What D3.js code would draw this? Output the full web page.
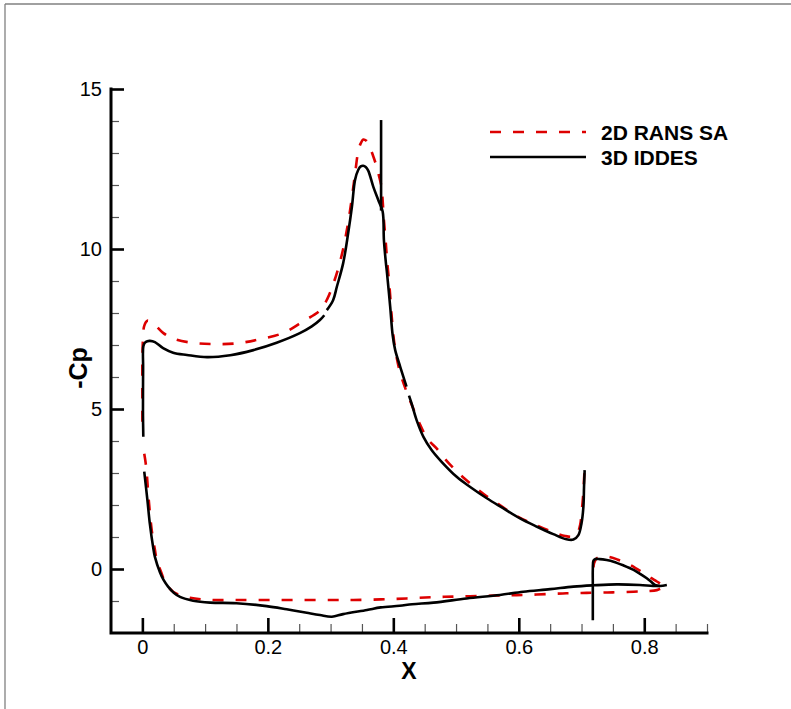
<!DOCTYPE html>
<html>
<head>
<meta charset="utf-8">
<script src="https://cdn.jsdelivr.net/npm/d3@7"></script>
<style>
  html, body { margin: 0; padding: 0; background: #fff; }
  svg { display: block; }
  text { font-family: "Liberation Sans", Arial, sans-serif; }
</style>
</head>
<body>
<script>
// -Cp distribution along x: main element + flap, two solvers

const xMajorTicks = [0, 0.2, 0.4, 0.6, 0.8];
const xMinorTicks = [0.05, 0.1, 0.15, 0.25, 0.3, 0.35, 0.45, 0.5, 0.55, 0.65, 0.7, 0.75, 0.85, 0.9];
const yMajorTicks = [0, 5, 10, 15];
const yMinorTicks = [-1, 1, 2, 3, 4, 6, 7, 8, 9, 11, 12, 13, 14];

const seriesNames = ["2D RANS SA", "3D IDDES"];

// 2D RANS SA — main element, suction side
const ransUpperX = [0.000, 0.000, 0.000, 0.001, 0.003, 0.008, 0.017, 0.033, 0.049, 0.079, 0.113, 0.150, 0.187, 0.225, 0.257, 0.283, 0.295, 0.305, 0.313, 0.320, 0.326, 0.331, 0.336, 0.340, 0.344, 0.348, 0.352, 0.357, 0.362, 0.368, 0.373, 0.377, 0.381, 0.385, 0.388, 0.390, 0.394, 0.397, 0.402, 0.410, 0.420, 0.430, 0.443, 0.455, 0.469, 0.482, 0.496, 0.512, 0.528, 0.545, 0.562, 0.580, 0.599, 0.617, 0.636, 0.655, 0.674, 0.687, 0.694, 0.698, 0.700, 0.703, 0.704, 0.705];
const ransUpperCp = [4.60, 5.50, 6.50, 7.20, 7.60, 7.76, 7.68, 7.38, 7.20, 7.07, 7.03, 7.05, 7.18, 7.38, 7.75, 8.08, 8.45, 8.95, 9.45, 10.00, 10.60, 11.20, 11.90, 12.50, 13.05, 13.30, 13.42, 13.38, 13.20, 12.90, 12.60, 12.30, 11.95, 10.90, 10.20, 9.66, 8.80, 8.00, 7.00, 6.20, 5.60, 5.10, 4.50, 4.05, 3.77, 3.45, 3.15, 2.85, 2.59, 2.33, 2.10, 1.86, 1.63, 1.46, 1.30, 1.15, 1.03, 1.02, 1.15, 1.40, 1.74, 2.40, 2.80, 3.15];

// 2D RANS SA — main element pressure side, running on under the flap
const ransLowerX = [0.003, 0.006, 0.010, 0.015, 0.020, 0.023, 0.030, 0.036, 0.043, 0.049, 0.060, 0.076, 0.095, 0.113, 0.150, 0.200, 0.250, 0.300, 0.336, 0.380, 0.421, 0.464, 0.500, 0.543, 0.580, 0.613, 0.650, 0.676, 0.700, 0.719, 0.750, 0.783, 0.805, 0.820, 0.826, 0.833];
const ransLowerCp = [3.60, 3.20, 2.20, 1.20, 0.60, 0.28, -0.10, -0.40, -0.60, -0.71, -0.82, -0.90, -0.95, -0.97, -0.97, -0.97, -0.97, -0.97, -0.97, -0.95, -0.92, -0.88, -0.86, -0.84, -0.82, -0.81, -0.78, -0.76, -0.75, -0.74, -0.73, -0.71, -0.69, -0.66, -0.61, -0.55];

// 2D RANS SA — flap suction side
const ransFlapX = [0.719, 0.720, 0.724, 0.733, 0.743, 0.757, 0.772, 0.786, 0.799, 0.810, 0.820, 0.827, 0.833];
const ransFlapCp = [0.05, 0.18, 0.33, 0.38, 0.38, 0.30, 0.18, 0.03, -0.13, -0.27, -0.39, -0.48, -0.55];

// 3D IDDES — main element suction side, first block
const iddesUpper1X = [0.0015, 0.0010, 0.0010, 0.0012, 0.0015, 0.004, 0.008, 0.012, 0.020, 0.033, 0.049, 0.071, 0.103, 0.140, 0.177, 0.214, 0.251, 0.270, 0.283, 0.290];
const iddesUpper1Cp = [4.13, 4.80, 5.50, 6.30, 6.95, 7.07, 7.12, 7.13, 7.09, 6.90, 6.76, 6.69, 6.62, 6.68, 6.84, 7.07, 7.37, 7.58, 7.78, 7.93];

// 3D IDDES — suction peak block
const iddesUpper2X = [0.294, 0.304, 0.310, 0.320, 0.328, 0.334, 0.339, 0.344, 0.348, 0.352, 0.356, 0.360, 0.368, 0.376, 0.383, 0.385, 0.388, 0.390, 0.395, 0.399, 0.403, 0.411, 0.421];
const iddesUpper2Cp = [8.09, 8.40, 8.82, 9.55, 10.49, 11.32, 12.16, 12.47, 12.58, 12.60, 12.56, 12.45, 11.95, 11.53, 11.17, 10.28, 9.60, 9.24, 8.20, 7.30, 6.84, 6.32, 5.70];

// 3D IDDES — recovery towards the trailing edge
const iddesUpper3X = [0.425, 0.429, 0.437, 0.448, 0.461, 0.477, 0.501, 0.522, 0.549, 0.575, 0.602, 0.629, 0.655, 0.676, 0.687, 0.695, 0.700, 0.703, 0.704, 0.705];
const iddesUpper3Cp = [5.42, 5.18, 4.66, 4.13, 3.72, 3.35, 2.88, 2.57, 2.21, 1.90, 1.58, 1.32, 1.09, 0.93, 0.92, 1.06, 1.43, 1.95, 2.57, 3.09];

// 3D IDDES — spike at the block interface
const iddesSpikeX = [0.3805, 0.3805];
const iddesSpikeCp = [11.20, 14.03];

// 3D IDDES — pressure side, main element and flap
const iddesLowerX = [0.003, 0.008, 0.012, 0.017, 0.020, 0.028, 0.034, 0.041, 0.050, 0.060, 0.081, 0.108, 0.150, 0.198, 0.230, 0.262, 0.283, 0.302, 0.320, 0.358, 0.380, 0.410, 0.430, 0.464, 0.517, 0.570, 0.607, 0.650, 0.687, 0.719, 0.756, 0.793, 0.814, 0.825, 0.836];
const iddesLowerCp = [3.04, 2.16, 1.40, 0.70, 0.38, -0.10, -0.35, -0.55, -0.74, -0.87, -0.99, -1.05, -1.07, -1.16, -1.26, -1.37, -1.44, -1.49, -1.41, -1.28, -1.20, -1.15, -1.10, -1.05, -0.92, -0.81, -0.71, -0.63, -0.55, -0.51, -0.48, -0.50, -0.53, -0.53, -0.50];

// 3D IDDES — flap suction side
const iddesFlapX = [0.718, 0.718, 0.718, 0.719, 0.722, 0.729, 0.740, 0.751, 0.767, 0.783, 0.794, 0.804, 0.811, 0.817, 0.825];
const iddesFlapCp = [-1.60, -0.50, 0.00, 0.26, 0.31, 0.31, 0.28, 0.23, 0.11, -0.03, -0.16, -0.29, -0.40, -0.50, -0.53];

const W = 791, H = 709;
const svg = d3.select("body").append("svg").attr("width", W).attr("height", H);

// outer frame (only top and left edges fall inside the page)
svg.append("line").attr("x1", 5).attr("y1", 4).attr("x2", W).attr("y2", 4)
  .attr("stroke", "#808080").attr("stroke-width", 1.3);
svg.append("line").attr("x1", 5).attr("y1", 4).attr("x2", 5).attr("y2", H)
  .attr("stroke", "#808080").attr("stroke-width", 1.3);

const x = d3.scaleLinear().domain([-0.05, 0.9]).range([111, 707]);
const y = d3.scaleLinear().domain([-2, 15]).range([633, 89]);

const zip = (xs, ys) => xs.map((v, i) => [v, ys[i]]);
const straight = d3.line().x(d => x(d[0])).y(d => y(d[1]));
const smooth = d3.line().x(d => x(d[0])).y(d => y(d[1])).curve(d3.curveCatmullRom.alpha(0.5));

const plot = svg.append("g");

function drawSeries(data, color, dashed, gen) {
  plot.append("path")
    .attr("d", gen(data))
    .attr("fill", "none")
    .attr("stroke", color)
    .attr("stroke-width", 2.6)
    .attr("stroke-linejoin", "round")
    .attr("stroke-dasharray", dashed ? "11,12" : null);
}

const red = "#dd0000", black = "#000";

drawSeries(zip(ransUpperX, ransUpperCp), red, true, smooth);
drawSeries(zip(ransLowerX, ransLowerCp), red, true, smooth);
drawSeries(zip(ransFlapX, ransFlapCp), red, true, smooth);

drawSeries(zip(iddesUpper1X, iddesUpper1Cp), black, false, smooth);
drawSeries(zip(iddesUpper2X, iddesUpper2Cp), black, false, smooth);
drawSeries(zip(iddesUpper3X, iddesUpper3Cp), black, false, smooth);
drawSeries(zip(iddesSpikeX, iddesSpikeCp), black, false, straight);
drawSeries(zip(iddesLowerX, iddesLowerCp), black, false, smooth);
drawSeries(zip(iddesFlapX, iddesFlapCp), black, false, smooth);

// axes: inward ticks, major and minor
function styleAxis(g, major) {
  g.select(".domain").remove();
  g.selectAll(".tick line").attr("stroke", major ? "#000" : "#555").attr("stroke-width", major ? 2.6 : 1.2);
  g.selectAll(".tick text").attr("font-size", 20).attr("fill", "#000")
    .attr("font-family", "'Liberation Sans', Arial, sans-serif");
}

svg.append("g").attr("transform", "translate(0,633)")
  .call(d3.axisBottom(x).tickValues(xMinorTicks).tickSize(-9).tickFormat(""))
  .call(g => styleAxis(g, false));
svg.append("g").attr("transform", "translate(0,633)")
  .call(d3.axisBottom(x).tickValues(xMajorTicks).tickSize(-15).tickPadding(7)
    .tickFormat(d => d === 0 ? "0" : d3.format(".1f")(d)))
  .call(g => styleAxis(g, true));

svg.append("g").attr("transform", "translate(111,0)")
  .call(d3.axisLeft(y).tickValues(yMinorTicks).tickSize(-8).tickFormat(""))
  .call(g => styleAxis(g, false));
svg.append("g").attr("transform", "translate(111,0)")
  .call(d3.axisLeft(y).tickValues(yMajorTicks).tickSize(-13).tickPadding(9).tickFormat(d3.format("d")))
  .call(g => styleAxis(g, true));

// axis lines
svg.append("path")
  .attr("d", `M${x(-0.05)},${y(15)}V${y(-2)}H${x(0.9)}`)
  .attr("fill", "none").attr("stroke", "#000").attr("stroke-width", 3)
  .attr("stroke-linecap", "square");

// axis titles
svg.append("text").attr("x", 409).attr("y", 679).attr("text-anchor", "middle")
  .attr("font-size", 23).attr("font-weight", "bold").text("X");
svg.append("text").attr("transform", "translate(87,368) rotate(-90)")
  .attr("text-anchor", "middle").attr("font-size", 25).attr("font-weight", "bold").text("-Cp");

// legend
const legend = svg.append("g");
const legendColors = [red, black];
seriesNames.forEach((name, i) => {
  const ly = 132 + i * 25;
  legend.append("line").attr("x1", 490).attr("x2", 586).attr("y1", ly).attr("y2", ly)
    .attr("stroke", legendColors[i]).attr("stroke-width", 2.6)
    .attr("stroke-dasharray", i === 0 ? "11,12" : null);
  legend.append("text").attr("x", 601).attr("y", ly + 7.5)
    .attr("font-size", 21).attr("font-weight", "bold").text(name);
});
</script>
</body>
</html>
